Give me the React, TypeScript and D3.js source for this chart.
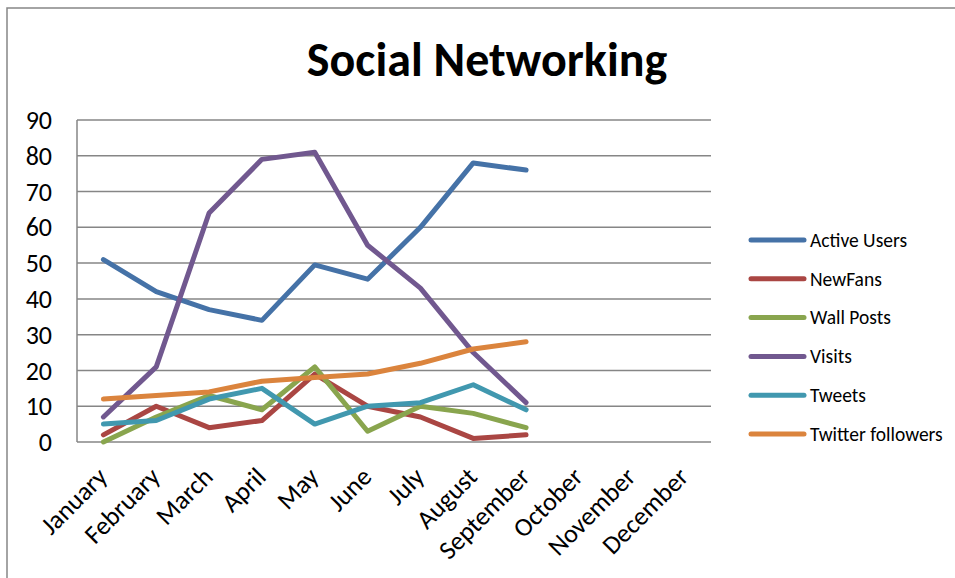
import * as d3 from "d3";

const months = [
  "January", "February", "March", "April", "May", "June",
  "July", "August", "September", "October", "November", "December",
];

const activeUsers = [51, 42, 37, 34, 49.5, 45.5, 60, 78, 76];
const newFans = [2, 10, 4, 6, 19, 10, 7, 1, 2];
const wallPosts = [0, 7, 13, 9, 21, 3, 10, 8, 4];
const visits = [7, 21, 64, 79, 81, 55, 43, 25, 11];
const tweets = [5, 6, 12, 15, 5, 10, 11, 16, 9];
const twitterFollowers = [12, 13, 14, 17, 18, 19, 22, 26, 28];

const seriesNames = ["Active Users", "NewFans", "Wall Posts", "Visits", "Tweets", "Twitter followers"];
const seriesColors = ["#4572A7", "#AA4643", "#89A54E", "#71588F", "#4198AF", "#DB843D"];
const yTicks = [0, 10, 20, 30, 40, 50, 60, 70, 80, 90];

const W = 955;
const H = 578;
const font = "Calibri, Carlito, 'Open Sans', sans-serif";

export default function App() {
  const series = [activeUsers, newFans, wallPosts, visits, tweets, twitterFollowers].map((values, i) => ({
    name: seriesNames[i],
    color: seriesColors[i],
    values,
  }));

  const x = d3.scaleBand().domain(months).range([77, 711]);
  const y = d3.scaleLinear().domain([0, 90]).range([442, 120]);
  const cx = (i: number) => (x(months[i]) ?? 0) + x.bandwidth() / 2;

  const line = d3
    .line<number>()
    .x((_, i) => cx(i))
    .y((d) => y(d));

  return (
    <svg
      width={W}
      height={H}
      style={{ position: "absolute", left: 0, top: 0, background: "#fff" }}
      fontFamily={font}
    >
      {/* chart frame */}
      <rect x={7} y={8} width={1000} height={700} fill="#fff" stroke="#868686" strokeWidth={1.5} />

      <text x={487} y={76} textAnchor="middle" fontSize={48} fontWeight="bold" fill="#000">
        Social Networking
      </text>

      {/* gridlines */}
      {yTicks.map((t) => (
        <g key={t}>
          <line x1={77} x2={711} y1={y(t)} y2={y(t)} stroke="#868686" strokeWidth={1.5} />
          <text x={52} y={y(t)} dy="0.35em" textAnchor="end" fontSize={26} fill="#000">
            {t}
          </text>
        </g>
      ))}
      <line x1={77} x2={77} y1={120} y2={442} stroke="#868686" strokeWidth={1.5} />

      {/* month labels */}
      {months.map((m, i) => (
        <text
          key={m}
          transform={`translate(${cx(i) - 1},${472}) rotate(-45)`}
          textAnchor="end"
          dy="0.35em"
          fontSize={26}
          fill="#000"
        >
          {m}
        </text>
      ))}

      {/* series lines */}
      {series.map((s) => (
        <path
          key={s.name}
          d={line(s.values) ?? ""}
          fill="none"
          stroke={s.color}
          strokeWidth={5}
          strokeLinejoin="round"
          strokeLinecap="round"
        />
      ))}

      {/* legend */}
      {series.map((s, i) => {
        const ly = 240 + i * 38.8;
        return (
          <g key={s.name}>
            <line x1={751} x2={804} y1={ly} y2={ly} stroke={s.color} strokeWidth={5} strokeLinecap="round" />
            <text x={810} y={ly} dy="0.35em" fontSize={19.5} fill="#000">
              {s.name}
            </text>
          </g>
        );
      })}
    </svg>
  );
}
